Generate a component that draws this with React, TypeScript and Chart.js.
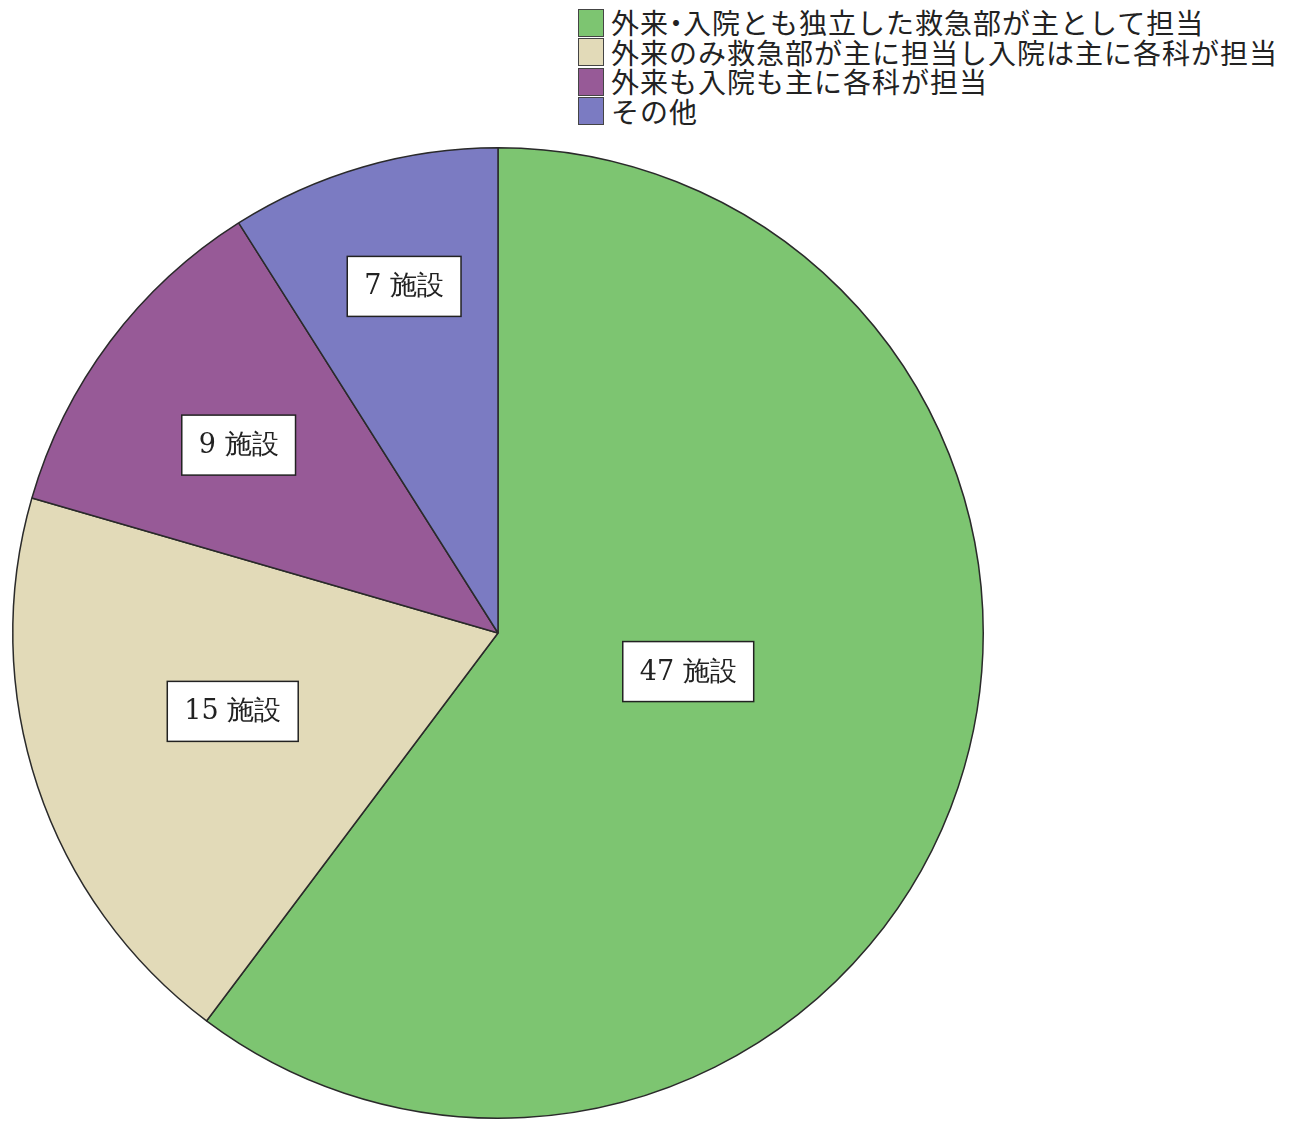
import React, { useEffect, useRef } from "react";
import { Chart, registerables } from "chart.js";

Chart.register(...registerables);

const categories = [
  "外来・入院とも独立した救急部が主として担当",
  "外来のみ救急部が主に担当し入院は主に各科が担当",
  "外来も入院も主に各科が担当",
  "その他",
];
const counts = [47, 15, 9, 7];
const valueLabels = ["47 施設", "15 施設", "9 施設", "7 施設"];
const colors = ["#7dc571", "#e2dab8", "#975a97", "#7b7bc2"];
// label placement: fraction of radius, angle shift (deg) relative to slice middle
const labelRadius = [0.4, 0.57, 0.66, 0.74];
const labelAngleShift = [-7, 2, -1, 1];

const labelPlugin = {
  id: "boxLabels",
  afterDatasetsDraw(chart: any) {
    const ctx = chart.ctx;
    const meta = chart.getDatasetMeta(0);
    ctx.save();
    ctx.font = '27px "DejaVu Serif", "Liberation Serif", serif';
    ctx.textAlign = "center";
    ctx.textBaseline = "middle";
    meta.data.forEach((arc: any, i: number) => {
      const p = arc.getProps(["x", "y", "startAngle", "endAngle", "outerRadius"], true);
      const mid = (p.startAngle + p.endAngle) / 2 + (labelAngleShift[i] * Math.PI) / 180;
      const r = p.outerRadius * labelRadius[i];
      const cx = p.x + Math.cos(mid) * r;
      const cy = p.y + Math.sin(mid) * r;
      const text = valueLabels[i];
      const w = ctx.measureText(text).width + 34;
      const h = 60;
      ctx.fillStyle = "#ffffff";
      ctx.fillRect(cx - w / 2, cy - h / 2, w, h);
      ctx.strokeStyle = "#222";
      ctx.lineWidth = 1.5;
      ctx.strokeRect(cx - w / 2, cy - h / 2, w, h);
      ctx.fillStyle = "#222";
      ctx.fillText(text, cx, cy + 1);
    });
    ctx.restore();
  },
};

function LegendText({ text }: { text: string }) {
  const parts = text.split("・");
  if (parts.length === 1) return <span style={{ letterSpacing: 1 }}>{text}</span>;
  return (
    <span style={{ letterSpacing: 1 }}>
      {parts[0]}
      <span style={{ margin: "0 -7px", letterSpacing: 0 }}>・</span>
      {parts.slice(1).join("・")}
    </span>
  );
}

export default function App() {
  const ref = useRef<HTMLCanvasElement | null>(null);
  useEffect(() => {
    if (!ref.current) return;
    const chart = new Chart(ref.current, {
      type: "pie",
      data: {
        labels: categories,
        datasets: [
          {
            data: counts,
            backgroundColor: colors,
            borderColor: "#2a2a2a",
            borderWidth: 1.5,
          },
        ],
      },
      options: {
        animation: false,
        responsive: false,
        maintainAspectRatio: false,
        layout: { padding: 12 },
        plugins: {
          legend: { display: false },
          tooltip: { enabled: false },
        },
      },
      plugins: [labelPlugin],
    });
    return () => chart.destroy();
  }, []);

  return (
    <div
      style={{
        position: "fixed",
        left: 0,
        top: 0,
        width: 1303,
        height: 1122,
        background: "#ffffff",
        overflow: "hidden",
      }}
    >
      <canvas
        ref={ref}
        width={996}
        height={996}
        style={{ position: "absolute", left: 0, top: 135, width: 996, height: 996 }}
      />
      <div
        style={{
          position: "absolute",
          left: 578,
          top: 8,
          fontFamily: '"Noto Sans CJK JP", "Noto Sans", sans-serif',
          fontSize: 28,
          color: "#222",
          lineHeight: "29.5px",
        }}
      >
        {categories.map((c, i) => (
          <div key={c} style={{ display: "flex", alignItems: "center", height: 29.5, whiteSpace: "nowrap" }}>
            <span
              style={{
                display: "inline-block",
                width: 26,
                height: 28,
                background: colors[i],
                border: "1px solid #444",
                marginRight: 7,
                boxSizing: "border-box",
              }}
            />
            <LegendText text={c} />
          </div>
        ))}
      </div>
    </div>
  );
}
